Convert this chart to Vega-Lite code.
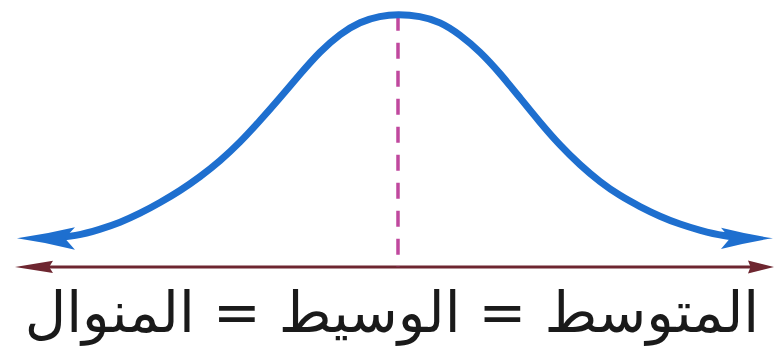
{
  "$schema": "https://vega.github.io/schema/vega-lite/v6.json",
  "width": 777,
  "height": 346,
  "autosize": {"type": "fit", "contains": "padding"},
  "padding": 0,
  "background": "white",
  "config": {"view": {"stroke": null}},
  "datasets": {
    "curve": [
      {"x": -3.209, "y": 0.114},
      {"x": -2.918, "y": 0.122},
      {"x": -2.709, "y": 0.149},
      {"x": -2.527, "y": 0.176},
      {"x": -2.345, "y": 0.212},
      {"x": -2.164, "y": 0.255},
      {"x": -1.982, "y": 0.302},
      {"x": -1.8, "y": 0.357},
      {"x": -1.618, "y": 0.420},
      {"x": -1.436, "y": 0.494},
      {"x": -1.255, "y": 0.580},
      {"x": -1.073, "y": 0.671},
      {"x": -0.891, "y": 0.765},
      {"x": -0.709, "y": 0.855},
      {"x": -0.527, "y": 0.925},
      {"x": -0.345, "y": 0.973},
      {"x": -0.164, "y": 0.996},
      {"x": 0, "y": 1.002},
      {"x": 0.2, "y": 0.996},
      {"x": 0.382, "y": 0.973},
      {"x": 0.564, "y": 0.922},
      {"x": 0.745, "y": 0.855},
      {"x": 0.927, "y": 0.769},
      {"x": 1.109, "y": 0.671},
      {"x": 1.291, "y": 0.573},
      {"x": 1.473, "y": 0.482},
      {"x": 1.655, "y": 0.404},
      {"x": 1.836, "y": 0.337},
      {"x": 2.018, "y": 0.282},
      {"x": 2.2, "y": 0.239},
      {"x": 2.382, "y": 0.200},
      {"x": 2.564, "y": 0.169},
      {"x": 2.745, "y": 0.145},
      {"x": 2.955, "y": 0.122},
      {"x": 3.2, "y": 0.114}
    ],
    "arrows": [
      {"kind": "curve", "end": "left", "x": -3.464, "y": 0.114},
      {"kind": "curve", "end": "right", "x": 3.409, "y": 0.114},
      {"kind": "axis", "end": "left", "x": -3.482, "y": 0},
      {"kind": "axis", "end": "right", "x": 3.418, "y": 0}
    ],
    "axisline": [
      {"x": -3.3, "y": 0},
      {"x": 3.29, "y": 0}
    ],
    "center": [
      {"x": 0, "y": 1.0, "y2": 0}
    ],
    "label": [
      {"x": -0.055, "y": -0.26, "text": "المتوسط = الوسيط = المنوال"}
    ]
  },
  "layer": [
    {
      "data": {"name": "axisline"},
      "mark": {"type": "line", "color": "#6e2630", "strokeWidth": 3},
      "encoding": {
        "x": {"field": "x", "type": "quantitative", "scale": {"domain": [-3.6182, 3.4455], "nice": false, "zero": false}, "axis": null},
        "y": {"field": "y", "type": "quantitative", "scale": {"domain": [-0.3137, 1.0431], "nice": false, "zero": false}, "axis": null}
      }
    },
    {
      "data": {"name": "arrows"},
      "transform": [{"filter": "datum.kind == 'axis' && datum.end == 'left'"}],
      "mark": {"type": "point", "filled": true, "opacity": 1, "color": "#6e2630", "strokeWidth": 0, "size": 1444, "shape": "M0,0 L2,-0.32 L1.8,0 L2,0.32 Z"},
      "encoding": {
        "x": {"field": "x", "type": "quantitative", "axis": null},
        "y": {"field": "y", "type": "quantitative", "axis": null}
      }
    },
    {
      "data": {"name": "arrows"},
      "transform": [{"filter": "datum.kind == 'axis' && datum.end == 'right'"}],
      "mark": {"type": "point", "filled": true, "opacity": 1, "color": "#6e2630", "strokeWidth": 0, "size": 676, "shape": "M0,0 L-2,-0.5 L-1.8,0 L-2,0.5 Z"},
      "encoding": {
        "x": {"field": "x", "type": "quantitative", "axis": null},
        "y": {"field": "y", "type": "quantitative", "axis": null}
      }
    },
    {
      "data": {"name": "center"},
      "mark": {"type": "rule", "color": "#c0489e", "strokeWidth": 3.5, "strokeDash": [16, 12]},
      "encoding": {
        "x": {"field": "x", "type": "quantitative", "axis": null},
        "y": {"field": "y", "type": "quantitative", "axis": null},
        "y2": {"field": "y2"}
      }
    },
    {
      "data": {"name": "curve"},
      "mark": {"type": "line", "color": "#1e6fcf", "strokeWidth": 7, "interpolate": "basis"},
      "encoding": {
        "x": {"field": "x", "type": "quantitative", "axis": null},
        "y": {"field": "y", "type": "quantitative", "axis": null}
      }
    },
    {
      "data": {"name": "arrows"},
      "transform": [{"filter": "datum.kind == 'curve' && datum.end == 'left'"}],
      "mark": {"type": "point", "filled": true, "opacity": 1, "color": "#1e6fcf", "strokeWidth": 0, "size": 3364, "shape": "M0,0 Q1,-0.14 2,-0.38 L1.65,0 L2,0.4 Q1,0.14 0,0 Z"},
      "encoding": {
        "x": {"field": "x", "type": "quantitative", "axis": null},
        "y": {"field": "y", "type": "quantitative", "axis": null}
      }
    },
    {
      "data": {"name": "arrows"},
      "transform": [{"filter": "datum.kind == 'curve' && datum.end == 'right'"}],
      "mark": {"type": "point", "filled": true, "opacity": 1, "color": "#1e6fcf", "strokeWidth": 0, "size": 2704, "shape": "M0,0 Q-1,-0.15 -2,-0.4 L-1.65,0 L-2,0.42 Q-1,0.15 0,0 Z"},
      "encoding": {
        "x": {"field": "x", "type": "quantitative", "axis": null},
        "y": {"field": "y", "type": "quantitative", "axis": null}
      }
    },
    {
      "data": {"name": "label"},
      "mark": {"type": "text", "font": "DejaVu Sans", "fontSize": 57, "color": "#1a1a1a", "align": "center", "baseline": "alphabetic"},
      "encoding": {
        "x": {"field": "x", "type": "quantitative", "axis": null},
        "y": {"field": "y", "type": "quantitative", "axis": null},
        "text": {"field": "text"}
      }
    }
  ]
}
